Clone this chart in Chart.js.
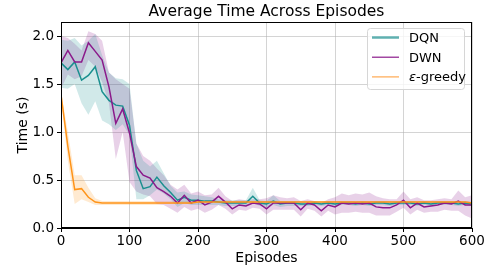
<!DOCTYPE html>
<html>
<head>
<meta charset="utf-8">
<script src="https://cdn.jsdelivr.net/npm/chart.js@4"></script>
<style>
  html, body { margin: 0; padding: 0; background: #fff; }
  #wrap { width: 490px; height: 267px; }
</style>
</head>
<body>
<div id="wrap"><canvas id="timeChart" width="490" height="267"></canvas></div>
<script>
// --- data ---
const episodes = [0,10,20,30,40,50,60,70,80,90,100,110,120,130,140,150,160,170,180,190,
  200,210,220,230,240,250,260,270,280,290,300,310,320,330,340,350,360,370,380,390,
  400,410,420,430,440,450,460,470,480,490,500,510,520,530,540,550,560,570,580,590,600];

const dqnMean = [1.72,1.65,1.73,1.54,1.59,1.68,1.42,1.33,1.28,1.27,1.07,0.60,0.41,0.43,0.53,0.44,0.37,0.29,0.32,0.29,
  0.29,0.28,0.28,0.27,0.26,0.26,0.26,0.26,0.33,0.26,0.25,0.28,0.25,0.26,0.26,0.25,0.25,0.26,0.25,0.26,
  0.25,0.26,0.26,0.25,0.26,0.25,0.26,0.26,0.25,0.26,0.26,0.26,0.25,0.26,0.25,0.26,0.26,0.26,0.25,0.26,0.25];
const dqnHi = [1.96,1.95,1.98,1.90,1.95,2.02,1.80,1.62,1.56,1.55,1.50,0.88,0.70,0.64,0.70,0.57,0.44,0.37,0.38,0.35,
  0.34,0.33,0.32,0.30,0.29,0.29,0.29,0.29,0.42,0.29,0.28,0.34,0.28,0.28,0.28,0.27,0.27,0.28,0.27,0.28,
  0.27,0.28,0.28,0.27,0.28,0.27,0.28,0.28,0.27,0.28,0.28,0.28,0.27,0.28,0.27,0.28,0.28,0.28,0.27,0.28,0.27];
const dqnLo = [1.46,1.45,1.50,1.30,1.18,1.32,1.12,1.08,1.02,1.08,0.97,0.30,0.30,0.34,0.40,0.36,0.30,0.22,0.26,0.24,
  0.24,0.24,0.24,0.24,0.23,0.23,0.23,0.23,0.26,0.23,0.22,0.24,0.22,0.23,0.23,0.23,0.23,0.24,0.23,0.24,
  0.23,0.24,0.24,0.23,0.24,0.23,0.24,0.24,0.23,0.24,0.24,0.24,0.23,0.24,0.23,0.24,0.24,0.24,0.23,0.24,0.23];

const dwnMean = [1.72,1.85,1.73,1.73,1.93,1.84,1.75,1.47,1.09,1.24,0.99,0.64,0.55,0.52,0.42,0.38,0.33,0.26,0.34,0.26,
  0.29,0.24,0.27,0.33,0.27,0.20,0.24,0.23,0.26,0.25,0.20,0.26,0.26,0.26,0.26,0.19,0.26,0.24,0.18,0.24,
  0.22,0.26,0.25,0.26,0.25,0.26,0.22,0.21,0.21,0.24,0.29,0.21,0.26,0.22,0.23,0.24,0.26,0.25,0.28,0.24,0.24];
const dwnHi = [2.00,1.98,1.92,1.85,2.05,2.02,1.95,1.62,1.55,1.50,1.45,0.88,0.75,0.70,0.62,0.55,0.45,0.40,0.45,0.36,
  0.38,0.34,0.35,0.42,0.33,0.28,0.30,0.29,0.30,0.30,0.31,0.34,0.32,0.31,0.32,0.28,0.30,0.28,0.26,0.30,
  0.32,0.36,0.34,0.36,0.35,0.37,0.33,0.31,0.30,0.30,0.38,0.30,0.32,0.29,0.29,0.30,0.31,0.30,0.39,0.32,0.34];
const dwnLo = [1.45,1.60,1.55,1.58,1.75,1.68,1.52,1.30,0.72,1.00,0.48,0.38,0.35,0.33,0.25,0.24,0.20,0.16,0.22,0.18,
  0.20,0.16,0.19,0.24,0.20,0.14,0.19,0.18,0.21,0.20,0.14,0.19,0.19,0.19,0.19,0.12,0.20,0.18,0.12,0.18,
  0.14,0.16,0.16,0.17,0.16,0.16,0.13,0.13,0.13,0.17,0.21,0.14,0.19,0.16,0.17,0.17,0.19,0.18,0.18,0.13,0.10];

const egMean = [1.39,0.85,0.40,0.41,0.32,0.27,0.26,0.26,0.26,0.26,0.26,0.26,0.26,0.26,0.26,0.26,0.26,0.26,0.26,0.26,
  0.27,0.27,0.27,0.27,0.27,0.27,0.27,0.27,0.27,0.27,0.27,0.27,0.27,0.27,0.27,0.27,0.27,0.27,0.27,0.27,
  0.27,0.27,0.27,0.27,0.27,0.27,0.27,0.27,0.27,0.27,0.27,0.27,0.27,0.27,0.27,0.27,0.27,0.27,0.27,0.27,0.26];
const egHi = [1.42,1.00,0.55,0.55,0.42,0.31,0.28,0.28,0.28,0.28,0.28,0.28,0.28,0.28,0.28,0.28,0.28,0.28,0.28,0.28,
  0.28,0.28,0.28,0.28,0.28,0.28,0.28,0.28,0.28,0.28,0.28,0.28,0.28,0.28,0.28,0.28,0.28,0.28,0.28,0.28,
  0.28,0.28,0.28,0.28,0.28,0.28,0.28,0.28,0.28,0.28,0.28,0.28,0.28,0.28,0.28,0.28,0.28,0.28,0.28,0.28,0.27];
const egLo = [1.36,0.70,0.25,0.30,0.27,0.24,0.24,0.24,0.24,0.24,0.24,0.24,0.24,0.24,0.24,0.25,0.25,0.25,0.25,0.25,
  0.26,0.26,0.26,0.26,0.26,0.26,0.26,0.26,0.26,0.26,0.26,0.26,0.26,0.26,0.26,0.26,0.26,0.26,0.26,0.26,
  0.26,0.26,0.26,0.26,0.26,0.26,0.26,0.26,0.26,0.26,0.26,0.26,0.26,0.26,0.26,0.26,0.26,0.26,0.26,0.26,0.25];

const xTicks = [0, 100, 200, 300, 400, 500, 600];
const yTicks = [0, 0.5, 1.0, 1.5, 2.0];

const FONT = 'DejaVu Sans';
const TEAL = '#1a8f8f', PURPLE = '#8b1a8b', ORANGE = '#ff9419';

const pts = (arr) => arr.map((v, i) => ({ x: episodes[i], y: v }));

const band = (arr, color, fillTo) => ({
    data: pts(arr),
    borderWidth: 0,
    pointRadius: 0,
    backgroundColor: color,
    fill: fillTo,
    order: 10
});

const line = (arr, color, order) => ({
    data: pts(arr),
    borderColor: color,
    borderWidth: 1.5,
    pointRadius: 0,
    fill: false,
    order: order
});

// matplotlib-ish frame, title and legend
const framePlugin = {
    id: 'frame',
    afterDraw(chart) {
        const { ctx, chartArea: a } = chart;
        ctx.save();
        ctx.strokeStyle = '#000';
        ctx.lineWidth = 1;
        ctx.strokeRect(a.left + 0.5, a.top + 0.5, a.right - a.left - 1, a.bottom - a.top - 1);

        // title
        ctx.fillStyle = '#000';
        ctx.font = `15.5px "${FONT}"`;
        ctx.textAlign = 'center';
        ctx.textBaseline = 'middle';
        ctx.fillText('Average Time Across Episodes', (a.left + a.right) / 2, 12);

        // legend box
        const bx = 367.5, by = 28.5, bw = 97, bh = 61;
        ctx.fillStyle = 'rgba(255,255,255,0.8)';
        ctx.strokeStyle = '#d6d6d6';
        ctx.beginPath();
        ctx.roundRect(bx, by, bw, bh, 3);
        ctx.fill();
        ctx.stroke();

        const rows = [
            { label: 'DQN', color: '#5fb0b0', w: 2.5 },
            { label: 'DWN', color: PURPLE, w: 1.2 },
            { label: 'greedy', color: '#ffa850', w: 1.2, eps: true }
        ];
        ctx.textAlign = 'left';
        ctx.font = `13px "${FONT}"`;
        rows.forEach((r, i) => {
            const y = 37.5 + i * 19.7;
            ctx.strokeStyle = r.color;
            ctx.lineWidth = r.w;
            ctx.beginPath();
            ctx.moveTo(372, y);
            ctx.lineTo(399, y);
            ctx.stroke();
            ctx.fillStyle = '#000';
            if (r.eps) {
                ctx.font = `italic 13px "${FONT}"`;
                ctx.fillText('ε', 409, y + 1);
                const ew = ctx.measureText('ε').width;
                ctx.font = `13px "${FONT}"`;
                ctx.fillText('-' + r.label, 409 + ew, y + 1);
            } else {
                ctx.fillText(r.label, 409, y + 1);
            }
        });
        ctx.restore();
    }
};

new Chart(document.getElementById('timeChart'), {
    type: 'line',
    data: {
        datasets: [
            band(dqnHi, 'rgba(26,143,143,0.2)', 1),
            band(dqnLo, 'transparent', false),
            band(dwnHi, 'rgba(139,26,139,0.2)', 3),
            band(dwnLo, 'transparent', false),
            band(egHi, 'rgba(255,148,25,0.2)', 5),
            band(egLo, 'transparent', false),
            line(dqnMean, TEAL, 3),
            line(dwnMean, PURPLE, 2),
            line(egMean, ORANGE, 1)
        ]
    },
    options: {
        responsive: false,
        animation: false,
        layout: { padding: { top: 22, right: 18, left: 0, bottom: 0 } },
        plugins: {
            legend: { display: false },
            tooltip: { enabled: false }
        },
        scales: {
            x: {
                type: 'linear',
                min: 0,
                max: 600,
                afterBuildTicks: (s) => { s.ticks = xTicks.map(v => ({ value: v })); },
                afterFit: (s) => { s.height = 39; },
                grid: { color: 'rgba(176,176,176,0.55)', tickColor: '#000', tickLength: 4 },
                border: { color: '#000' },
                ticks: { color: '#000', font: { family: FONT, size: 13.5 }, padding: 1, maxRotation: 0 },
                title: { display: true, text: 'Episodes', color: '#000', font: { family: FONT, size: 14 }, padding: { top: 0, bottom: 0 } }
            },
            y: {
                min: 0,
                max: 2.146,
                afterBuildTicks: (s) => { s.ticks = yTicks.map(v => ({ value: v })); },
                afterFit: (s) => { s.width = 61; },
                grid: { color: 'rgba(176,176,176,0.55)', tickColor: '#000', tickLength: 4 },
                border: { color: '#000' },
                ticks: { color: '#000', font: { family: FONT, size: 13.5 }, padding: 3, callback: (v) => v.toFixed(1) },
                title: { display: true, text: 'Time (s)', color: '#000', font: { family: FONT, size: 14 }, padding: { top: 15, bottom: 0 } }
            }
        }
    },
    plugins: [framePlugin]
});
</script>
</body>
</html>
